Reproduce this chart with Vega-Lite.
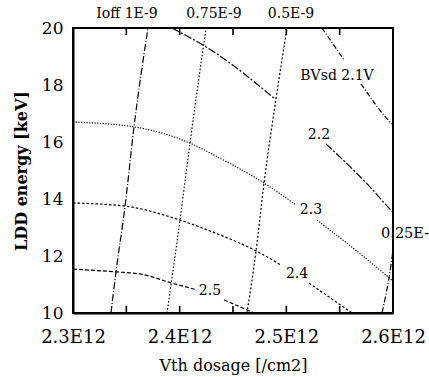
{
  "$schema": "https://vega.github.io/schema/vega-lite/v6.json",
  "width": 320,
  "height": 285,
  "autosize": {"type": "none"},
  "padding": {"left": 73, "top": 28, "right": 36, "bottom": 64},
  "background": "white",
  "config": {
    "view": {"stroke": "black", "strokeWidth": 2},
    "font": "DejaVu Serif",
    "text": {"font": "DejaVu Serif"},
    "axis": {
      "domainColor": "black", "domainWidth": 2,
      "labelColor": "black", "titleColor": "black",
      "labelFont": "DejaVu Serif", "titleFont": "DejaVu Serif",
      "grid": false, "ticks": false, "titleFontWeight": "normal"
    }
  },
  "layer": [
    {
      "data": {"values": [
        {"s": "i1", "seg": "i1", "x": 2.3356, "y": 10},
        {"s": "i1", "seg": "i1", "x": 2.3403, "y": 11.44},
        {"s": "i1", "seg": "i1", "x": 2.3488, "y": 13.75},
        {"s": "i1", "seg": "i1", "x": 2.3572, "y": 16.53},
        {"s": "i1", "seg": "i1", "x": 2.3703, "y": 20},
        {"s": "i075", "seg": "i075", "x": 2.3881, "y": 10},
        {"s": "i075", "seg": "i075", "x": 2.4003, "y": 13.26},
        {"s": "i075", "seg": "i075", "x": 2.4097, "y": 15.96},
        {"s": "i075", "seg": "i075", "x": 2.4247, "y": 20},
        {"s": "i05", "seg": "i05", "x": 2.4631, "y": 10},
        {"s": "i05", "seg": "i05", "x": 2.4716, "y": 12.18},
        {"s": "i05", "seg": "i05", "x": 2.4791, "y": 14.56},
        {"s": "i05", "seg": "i05", "x": 2.4903, "y": 17.51},
        {"s": "i05", "seg": "i05", "x": 2.5006, "y": 20},
        {"s": "i025", "seg": "i025", "x": 2.5897, "y": 10},
        {"s": "i025", "seg": "i025", "x": 2.5981, "y": 11.68},
        {"s": "i025", "seg": "i025", "x": 2.6, "y": 12.2},
        {"s": "b21", "seg": "b21a", "x": 2.5334, "y": 20},
        {"s": "b21", "seg": "b21a", "x": 2.5541, "y": 18.88},
        {"s": "b21", "seg": "b21b", "x": 2.57, "y": 18.04},
        {"s": "b21", "seg": "b21b", "x": 2.5981, "y": 16.67},
        {"s": "b21", "seg": "b21b", "x": 2.6, "y": 16.6},
        {"s": "b22", "seg": "b22a", "x": 2.3928, "y": 20},
        {"s": "b22", "seg": "b22a", "x": 2.4322, "y": 19.16},
        {"s": "b22", "seg": "b22a", "x": 2.4884, "y": 17.54},
        {"s": "b22", "seg": "b22b", "x": 2.5372, "y": 15.93},
        {"s": "b22", "seg": "b22b", "x": 2.5775, "y": 14.46},
        {"s": "b22", "seg": "b22b", "x": 2.5981, "y": 13.61},
        {"s": "b22", "seg": "b22b", "x": 2.6, "y": 13.54},
        {"s": "b23", "seg": "b23a", "x": 2.3, "y": 16.70},
        {"s": "b23", "seg": "b23a", "x": 2.3572, "y": 16.53},
        {"s": "b23", "seg": "b23a", "x": 2.4097, "y": 15.96},
        {"s": "b23", "seg": "b23a", "x": 2.4322, "y": 15.54},
        {"s": "b23", "seg": "b23a", "x": 2.4791, "y": 14.56},
        {"s": "b23", "seg": "b23a", "x": 2.5091, "y": 13.79},
        {"s": "b23", "seg": "b23b", "x": 2.5288, "y": 13.26},
        {"s": "b23", "seg": "b23b", "x": 2.5944, "y": 11.30},
        {"s": "b23", "seg": "b23b", "x": 2.6, "y": 11.12},
        {"s": "b24", "seg": "b24a", "x": 2.3, "y": 13.86},
        {"s": "b24", "seg": "b24a", "x": 2.3488, "y": 13.75},
        {"s": "b24", "seg": "b24a", "x": 2.4003, "y": 13.26},
        {"s": "b24", "seg": "b24a", "x": 2.4331, "y": 12.81},
        {"s": "b24", "seg": "b24a", "x": 2.4716, "y": 12.18},
        {"s": "b24", "seg": "b24a", "x": 2.495, "y": 11.68},
        {"s": "b24", "seg": "b24b", "x": 2.5213, "y": 11.05},
        {"s": "b24", "seg": "b24b", "x": 2.5616, "y": 10.0},
        {"s": "b25", "seg": "b25a", "x": 2.3, "y": 11.54},
        {"s": "b25", "seg": "b25a", "x": 2.3413, "y": 11.44},
        {"s": "b25", "seg": "b25a", "x": 2.3628, "y": 11.37},
        {"s": "b25", "seg": "b25a", "x": 2.3928, "y": 11.05},
        {"s": "b25", "seg": "b25a", "x": 2.4163, "y": 10.81},
        {"s": "b25", "seg": "b25b", "x": 2.4416, "y": 10.46},
        {"s": "b25", "seg": "b25b", "x": 2.4697, "y": 10.0}
      ]},
      "mark": {"type": "line", "color": "black", "interpolate": "monotone", "clip": true},
      "encoding": {
        "x": {"field": "x", "type": "quantitative",
          "scale": {"domain": [2.3, 2.6], "nice": false, "zero": false},
          "axis": {"orient": "bottom", "values": [2.3, 2.4, 2.5, 2.6],
            "labelExpr": "format(datum.value, '.1f') + 'E12'", "labelFlush": false,
            "labelFontSize": 18, "labelPadding": 15, "title": "Vth dosage [/cm2]",
            "titleFontSize": 16, "titlePadding": 11}},
        "y": {"field": "y", "type": "quantitative",
          "scale": {"domain": [10, 20], "nice": false, "zero": false},
          "axis": {"orient": "left", "values": [10, 12, 14, 16, 18, 20],
            "labelFontSize": 17, "labelPadding": 10, "title": "LDD energy [keV]",
            "titleFontSize": 16, "titleFontWeight": "bold", "titlePadding": 12}},
        "strokeDash": {"field": "s", "type": "nominal",
          "scale": {"domain": ["i1", "i075", "i05", "i025", "b21", "b22", "b23", "b24", "b25"],
            "range": [[7, 2, 1, 2], [1.5, 2], [2, 2], [6, 2, 1, 2], [5, 2, 1, 2], [8, 2, 2, 2], [1.2, 1.5], [2.5, 2], [4, 2]]},
          "legend": null},
        "strokeWidth": {"field": "s", "type": "nominal",
          "scale": {"domain": ["i1", "i075", "i05", "i025", "b21", "b22", "b23", "b24", "b25"],
            "range": [1.2, 1.2, 1.2, 1.2, 1.2, 1.8, 1.2, 1.3, 1.3]},
          "legend": null},
        "detail": {"field": "seg", "type": "nominal"}
      }
    },
    {
      "data": {"values": [
        {"t": 2.35, "b": 10, "side": "bottom"}, {"t": 2.4, "b": 10, "side": "bottom"}, {"t": 2.45, "b": 10, "side": "bottom"}, {"t": 2.5, "b": 10, "side": "bottom"}, {"t": 2.55, "b": 10, "side": "bottom"},
        {"t": 2.35, "b": 20, "side": "top"}, {"t": 2.4, "b": 20, "side": "top"}, {"t": 2.45, "b": 20, "side": "top"}, {"t": 2.5, "b": 20, "side": "top"}, {"t": 2.55, "b": 20, "side": "top"}
      ]},
      "mark": {"type": "point", "filled": false, "color": "black", "strokeWidth": 1.6, "opacity": 1},
      "encoding": {
        "x": {"field": "t", "type": "quantitative", "scale": {"domain": [2.3, 2.6], "nice": false, "zero": false}, "axis": null},
        "y": {"field": "b", "type": "quantitative", "scale": {"domain": [10, 20], "nice": false, "zero": false}, "axis": null},
        "shape": {"field": "side", "type": "nominal", "scale": {"domain": ["bottom", "top"], "range": ["M0,0L0,-1", "M0,0L0,1"]}, "legend": null},
        "size": {"value": 196}
      }
    },
    {
      "data": {"values": [
        {"t": 12, "b": 2.3, "side": "left"}, {"t": 14, "b": 2.3, "side": "left"}, {"t": 16, "b": 2.3, "side": "left"}, {"t": 18, "b": 2.3, "side": "left"},
        {"t": 12, "b": 2.6, "side": "right"}, {"t": 14, "b": 2.6, "side": "right"}, {"t": 16, "b": 2.6, "side": "right"}, {"t": 18, "b": 2.6, "side": "right"}
      ]},
      "mark": {"type": "point", "filled": false, "color": "black", "strokeWidth": 1.6, "opacity": 1},
      "encoding": {
        "y": {"field": "t", "type": "quantitative", "scale": {"domain": [10, 20], "nice": false, "zero": false}, "axis": null},
        "x": {"field": "b", "type": "quantitative", "scale": {"domain": [2.3, 2.6], "nice": false, "zero": false}, "axis": null},
        "shape": {"field": "side", "type": "nominal", "scale": {"domain": ["left", "right"], "range": ["M0,0L1,0", "M0,0L-1,0"]}, "legend": null},
        "size": {"value": 196}
      }
    },
    {
      "data": {"values": [
        {"label": "BVsd 2.1V", "x": 2.5475, "y": 18.32},
        {"label": "2.2", "x": 2.5306, "y": 16.25},
        {"label": "2.3", "x": 2.5231, "y": 13.61},
        {"label": "2.4", "x": 2.51, "y": 11.37},
        {"label": "2.5", "x": 2.4284, "y": 10.77}
      ]},
      "mark": {"type": "text", "fontSize": 14, "color": "black", "align": "center", "baseline": "middle"},
      "encoding": {
        "x": {"field": "x", "type": "quantitative", "scale": {"domain": [2.3, 2.6], "nice": false, "zero": false}, "axis": null},
        "y": {"field": "y", "type": "quantitative", "scale": {"domain": [10, 20], "nice": false, "zero": false}, "axis": null},
        "text": {"field": "label"}
      }
    },
    {
      "data": {"values": [
        {"label": "0.25E-9", "x": 2.5888, "y": 12.77}
      ]},
      "mark": {"type": "text", "fontSize": 14.5, "color": "black", "align": "left", "baseline": "middle"},
      "encoding": {
        "x": {"field": "x", "type": "quantitative", "scale": {"domain": [2.3, 2.6], "nice": false, "zero": false}, "axis": null},
        "y": {"field": "y", "type": "quantitative", "scale": {"domain": [10, 20], "nice": false, "zero": false}, "axis": null},
        "text": {"field": "label"}
      }
    },
    {
      "data": {"values": [
        {"label": "Ioff 1E-9", "x": 2.3506, "y": 20.49},
        {"label": "0.75E-9", "x": 2.4322, "y": 20.49},
        {"label": "0.5E-9", "x": 2.5044, "y": 20.49}
      ]},
      "mark": {"type": "text", "fontSize": 14, "color": "black", "align": "center", "baseline": "middle"},
      "encoding": {
        "x": {"field": "x", "type": "quantitative", "scale": {"domain": [2.3, 2.6], "nice": false, "zero": false}, "axis": null},
        "y": {"field": "y", "type": "quantitative", "scale": {"domain": [10, 20], "nice": false, "zero": false}, "axis": null},
        "text": {"field": "label"}
      }
    }
  ],
  "resolve": {"scale": {"x": "independent", "y": "independent"}}
}
